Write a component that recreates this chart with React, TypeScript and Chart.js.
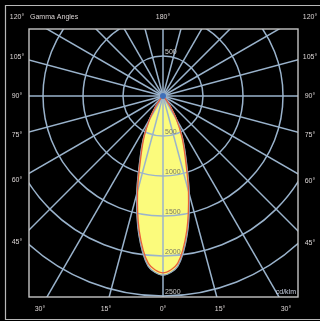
import { useEffect, useRef } from "react";
import { Chart, registerables } from "chart.js";

Chart.register(...registerables);

// Gamma angles (deg from nadir) and luminous intensities (cd/klm)
const gammaAngles = [0, 5, 10, 15, 20, 25, 30, 35, 40, 45, 50, 55, 60, 65, 70, 75, 80, 85, 90];
const intensityC0 = [2210, 2100, 1710, 1230, 810, 555, 330, 155, 62, 20, 5, 0, 0, 0, 0, 0, 0, 0, 0];
const intensityC90 = [2240, 2135, 1750, 1270, 845, 580, 345, 165, 66, 22, 6, 0, 0, 0, 0, 0, 0, 0, 0];

// Grid
const circleValues = [500, 1000, 1500, 2000, 2500];
const circleLabels = ["500", "1000", "1500", "2000", "2500"];
const radialAngles = [0, 15, 30, 45, 60, 75, 90, 105, 120, 135, 150, 165, 180, 195, 210, 225, 240, 255, 270, 285, 300, 315, 330, 345];
const sideAngleLabels = [45, 60, 75, 90, 105, 120];
const bottomAngleLabels = [0, 15, 30];
const topAngleLabel = "180°";
const axisTitle = "Gamma Angles";
const unitLabel = "cd/klm";

const toRad = (d: number) => (d * Math.PI) / 180;

function lobe(values: number[]) {
  const pts: { x: number; y: number }[] = [];
  const n = values.length;
  for (let i = n - 1; i >= 0; i--) {
    const g = -gammaAngles[i];
    const I = values[i];
    pts.push({ x: I * Math.sin(toRad(g)), y: -I * Math.cos(toRad(g)) });
  }
  for (let i = 1; i < n; i++) {
    const g = gammaAngles[i];
    const I = values[i];
    pts.push({ x: I * Math.sin(toRad(g)), y: -I * Math.cos(toRad(g)) });
  }
  const out: { x: number; y: number }[] = [];
  for (const p of pts) {
    const last = out[out.length - 1];
    if (last && Math.abs(last.x - p.x) < 1e-6 && Math.abs(last.y - p.y) < 1e-6) continue;
    out.push(p);
  }
  return out;
}

const FONT = "7px 'Liberation Sans', Arial, sans-serif";
const TEXT = "#dcd6d6";
const GRID = "#9ab3cc";

const polarPlugin = {
  id: "polarGrid",
  beforeDraw(chart: any) {
    const ctx = chart.ctx;
    ctx.save();
    ctx.fillStyle = "#000";
    ctx.fillRect(0, 0, chart.width, chart.height);
    ctx.restore();
  },
  afterDatasetDraw(chart: any, args: any) {
    if (args.index !== 0) return;
    const ctx = chart.ctx;
    const xs = chart.scales.x;
    const ys = chart.scales.y;
    const ca = chart.chartArea;
    const cx = xs.getPixelForValue(0);
    const cy = ys.getPixelForValue(0);
    const pxPer = xs.getPixelForValue(1000) - cx;
    ctx.save();
    ctx.beginPath();
    ctx.rect(ca.left, ca.top, ca.right - ca.left, ca.bottom - ca.top);
    ctx.clip();
    ctx.strokeStyle = GRID;
    ctx.lineWidth = 1.5;
    for (const v of circleValues) {
      ctx.beginPath();
      ctx.arc(cx, cy, (v / 1000) * pxPer, 0, Math.PI * 2);
      ctx.stroke();
    }
    for (const a of radialAngles) {
      const R = 6000;
      const ex = xs.getPixelForValue(R * Math.sin(toRad(a)));
      const ey = ys.getPixelForValue(-R * Math.cos(toRad(a)));
      ctx.beginPath();
      ctx.moveTo(cx, cy);
      ctx.lineTo(ex, ey);
      ctx.stroke();
    }
    ctx.restore();
  },
  afterDatasetsDraw(chart: any) {
    const ctx = chart.ctx;
    const xs = chart.scales.x;
    const ys = chart.scales.y;
    const ca = chart.chartArea;
    const cx = xs.getPixelForValue(0);
    const cy = ys.getPixelForValue(0);
    ctx.save();
    ctx.fillStyle = "#3f6fb8";
    ctx.beginPath();
    ctx.arc(cx, cy, 3, 0, Math.PI * 2);
    ctx.fill();
    ctx.strokeStyle = "#c4c4c4";
    ctx.lineWidth = 1.4;
    ctx.strokeRect(ca.left, ca.top, ca.right - ca.left, ca.bottom - ca.top);
    ctx.strokeStyle = "#b8b8b8";
    ctx.lineWidth = 1.2;
    ctx.beginPath();
    ctx.moveTo(chart.width + 2, 5.5);
    ctx.lineTo(5.5, 5.5);
    ctx.lineTo(5.5, chart.height - 1.5);
    ctx.lineTo(chart.width + 2, chart.height - 1.5);
    ctx.stroke();

    ctx.font = FONT;
    ctx.textBaseline = "middle";
    ctx.textAlign = "left";
    circleValues.forEach((v, i) => {
      const yb = ys.getPixelForValue(-v);
      ctx.fillStyle = v <= 2000 ? "#7a7a66" : "#c8c8c8";
      if (yb <= ca.bottom + 1) {
        ctx.fillText(circleLabels[i], cx + 2, yb - 4);
      }
      const yt = ys.getPixelForValue(v);
      if (yt - 8 >= ca.top) {
        ctx.fillStyle = "#d0d0d0";
        ctx.fillText(circleLabels[i], cx + 2, yt - 4);
      }
    });
    ctx.fillStyle = TEXT;
    const L = ca.left - 12;
    const Rr = ca.right + 12;
    const T = ca.top - 12;
    const B = ca.bottom + 12;
    ctx.textAlign = "center";
    for (const g of sideAngleLabels) {
      const s = Math.sin(toRad(g));
      const c = Math.cos(toRad(g));
      const yl = Math.max(T, Math.min(B, cy + ((cx - L) / s) * c));
      const yr = Math.max(T, Math.min(B, cy + ((Rr - cx) / s) * c));
      ctx.fillText(g + "°", L, yl);
      ctx.fillText(g + "°", Rr, yr);
    }
    for (const g of bottomAngleLabels) {
      const dx = (B - cy) * Math.tan(toRad(g));
      ctx.fillText(g + "°", cx - dx, B);
      if (g !== 0) ctx.fillText(g + "°", cx + dx, B);
    }
    ctx.fillText(topAngleLabel, cx, T);
    ctx.textAlign = "left";
    ctx.fillText(axisTitle, ca.left + 1, T);
    ctx.textAlign = "right";
    ctx.fillStyle = "#c8cfe0";
    ctx.fillText(unitLabel, ca.right - 2, ca.bottom - 5);
    ctx.restore();
  },
};

export default function App() {
  const ref = useRef<HTMLCanvasElement | null>(null);
  useEffect(() => {
    document.body.style.margin = "0";
    document.body.style.background = "#000";
    const canvas = ref.current;
    if (!canvas) return;
    const outer = lobe(intensityC90);
    const inner = lobe(intensityC0);
    const chart = new Chart(canvas, {
      type: "scatter",
      data: {
        datasets: [
          {
            data: outer,
            showLine: true,
            fill: "shape",
            backgroundColor: "#fbfb7c",
            borderColor: "#fbfb7c",
            borderWidth: 0.5,
            pointRadius: 0,
            tension: 0.3,
            order: 3,
          },
          {
            data: outer,
            showLine: true,
            fill: false,
            borderColor: "#8ea6c4",
            borderWidth: 1.3,
            pointRadius: 0,
            tension: 0.3,
            order: 2,
          },
          {
            data: inner,
            showLine: true,
            fill: false,
            borderColor: "#e8603a",
            borderWidth: 1.3,
            pointRadius: 0,
            tension: 0.3,
            order: 1,
          },
        ],
      } as any,
      options: {
        animation: false,
        responsive: false,
        devicePixelRatio: 1,
        layout: { padding: { left: 29, top: 29, right: 22, bottom: 24 } },
        plugins: { legend: { display: false }, tooltip: { enabled: false } },
        scales: {
          x: { type: "linear", min: -1675, max: 1687.5, display: false },
          y: { type: "linear", min: -2512.5, max: 837.5, display: false },
        },
      } as any,
      plugins: [polarPlugin],
    });
    return () => chart.destroy();
  }, []);
  return (
    <div style={{ width: 320, height: 321, background: "#000" }}>
      <canvas ref={ref} width={320} height={321} style={{ display: "block", width: 320, height: 321 }} />
    </div>
  );
}
